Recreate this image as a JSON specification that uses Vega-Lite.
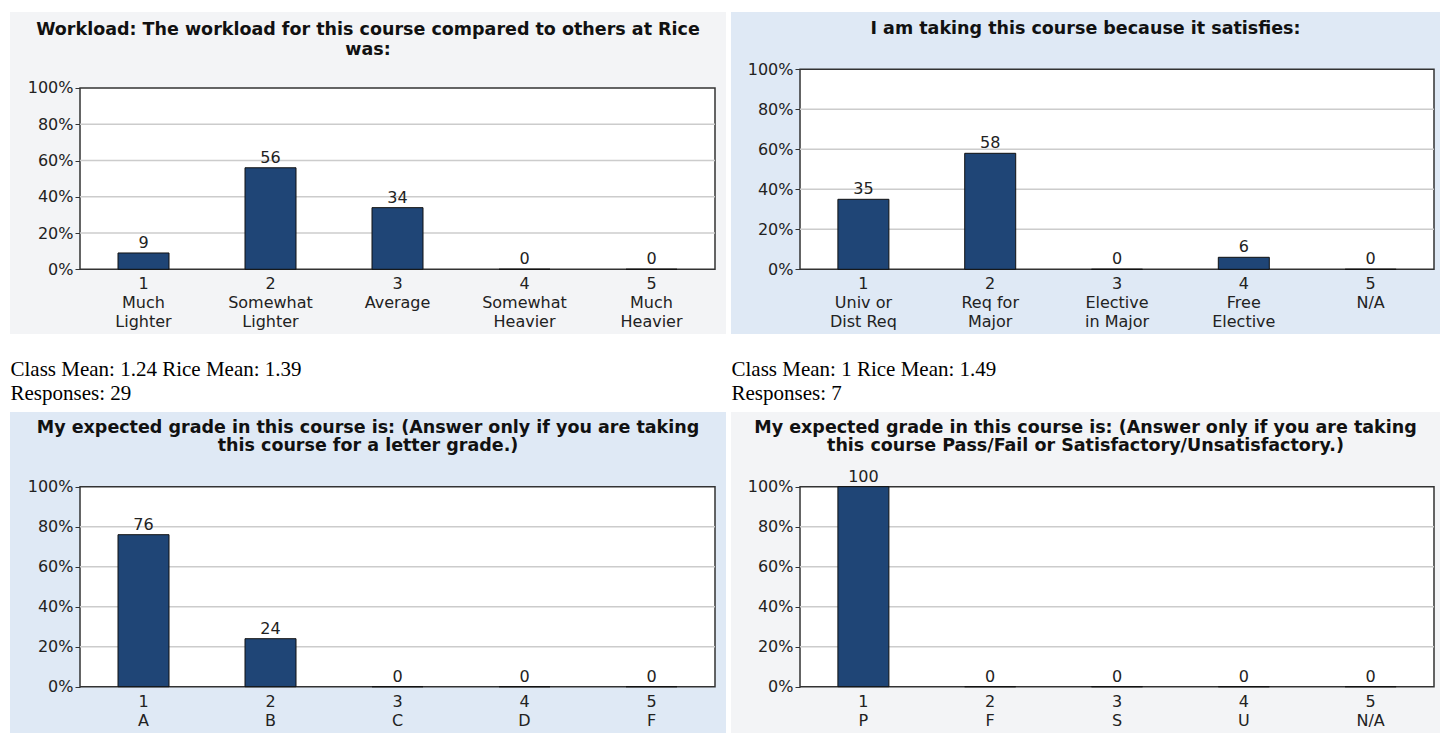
{
  "$schema": "https://vega.github.io/schema/vega-lite/v6.json",
  "background": "#ffffff",
  "padding": {"left": 10, "top": 12, "right": 0, "bottom": 0},
  "config": {
    "view": {"stroke": null},
    "font": "DejaVu Sans",
    "axis": {"zindex": 1}
  },
  "datasets": {
    "workload": [
      {"opt": 1, "lab": "1\nMuch\nLighter", "pct": 9},
      {"opt": 2, "lab": "2\nSomewhat\nLighter", "pct": 56},
      {"opt": 3, "lab": "3\nAverage", "pct": 34},
      {"opt": 4, "lab": "4\nSomewhat\nHeavier", "pct": 0},
      {"opt": 5, "lab": "5\nMuch\nHeavier", "pct": 0}
    ],
    "satisfies": [
      {"opt": 1, "lab": "1\nUniv or\nDist Req", "pct": 35},
      {"opt": 2, "lab": "2\nReq for\nMajor", "pct": 58},
      {"opt": 3, "lab": "3\nElective\nin Major", "pct": 0},
      {"opt": 4, "lab": "4\nFree\nElective", "pct": 6},
      {"opt": 5, "lab": "5\nN/A", "pct": 0}
    ],
    "grade": [
      {"opt": 1, "lab": "1\nA", "pct": 76},
      {"opt": 2, "lab": "2\nB", "pct": 24},
      {"opt": 3, "lab": "3\nC", "pct": 0},
      {"opt": 4, "lab": "4\nD", "pct": 0},
      {"opt": 5, "lab": "5\nF", "pct": 0}
    ],
    "passfail": [
      {"opt": 1, "lab": "1\nP", "pct": 100},
      {"opt": 2, "lab": "2\nF", "pct": 0},
      {"opt": 3, "lab": "3\nS", "pct": 0},
      {"opt": 4, "lab": "4\nU", "pct": 0},
      {"opt": 5, "lab": "5\nN/A", "pct": 0}
    ],
    "grid": [{"g": 20}, {"g": 40}, {"g": 60}, {"g": 80}],
    "frame": [{"part": "plot"}]
  },
  "columns": 2,
  "spacing": {"row": 78, "column": 5},
  "bounds": "flush",
  "concat": [
    {
      "width": 716, "height": 322,
      "view": {"fill": "#f3f4f6", "stroke": null},
      "title": {"text": ["Workload: The workload for this course compared to others at Rice", "was:"], "anchor": "middle", "frame": "group", "offset": -46, "lineHeight": 20, "fontSize": 17.5, "fontWeight": "bold", "font": "DejaVu Sans", "color": "#111111"},
      "layer": [
        {"data": {"name": "frame"}, "mark": {"type": "rect", "fill": "#ffffff", "stroke": "#333333", "strokeWidth": 1.5},
         "encoding": {
           "x": {"datum": 0.5, "scale": {"domain": [-0.0512, 5.5866], "nice": false, "zero": false, "padding": 0},
                 "axis": {"labels": false, "ticks": false, "domain": false, "grid": false, "title": ["Class Mean: 1.24 Rice Mean: 1.39", "Responses: 29"], "titleAnchor": "start", "titleAlign": "left", "titleBaseline": "top", "titleFont": "Liberation Serif", "titleFontSize": 21, "titleFontWeight": "normal", "titleColor": "#000000", "titleLineHeight": 24, "titlePadding": 24}},
           "x2": {"datum": 5.5},
           "y": {"datum": 0, "scale": {"domain": [-35.69, 141.92], "nice": false, "zero": false},
                 "axis": {"values": [0, 20, 40, 60, 80, 100], "labelExpr": "datum.value + '%'", "offset": -70, "domain": false, "grid": false, "tickSize": 5, "tickColor": "#333333", "tickWidth": 1, "labelFontSize": 16, "labelColor": "#222222", "labelPadding": 2, "title": null}},
           "y2": {"datum": 100}}},
        {"data": {"name": "grid"}, "mark": {"type": "rule", "stroke": "#cccccc", "strokeWidth": 1.5},
         "encoding": {
           "x": {"datum": 0.5, "scale": {"domain": [-0.0512, 5.5866], "nice": false, "zero": false, "padding": 0},
                 "axis": {"labels": false, "ticks": false, "domain": false, "grid": false, "title": ["Class Mean: 1.24 Rice Mean: 1.39", "Responses: 29"], "titleAnchor": "start", "titleAlign": "left", "titleBaseline": "top", "titleFont": "Liberation Serif", "titleFontSize": 21, "titleFontWeight": "normal", "titleColor": "#000000", "titleLineHeight": 24, "titlePadding": 24}},
           "x2": {"datum": 5.5},
           "y": {"field": "g", "type": "quantitative", "scale": {"domain": [-35.69, 141.92], "nice": false, "zero": false},
                 "axis": {"values": [0, 20, 40, 60, 80, 100], "labelExpr": "datum.value + '%'", "offset": -70, "domain": false, "grid": false, "tickSize": 5, "tickColor": "#333333", "tickWidth": 1, "labelFontSize": 16, "labelColor": "#222222", "labelPadding": 2, "title": null}}}},
        {"data": {"name": "workload"}, "mark": {"type": "bar", "orient": "vertical", "width": 51, "fill": "#1f4576", "stroke": "#111111", "strokeWidth": 1},
         "encoding": {
           "x": {"field": "opt", "type": "quantitative", "scale": {"domain": [-0.0512, 5.5866], "nice": false, "zero": false, "padding": 0},
                 "axis": {"labels": false, "ticks": false, "domain": false, "grid": false, "title": ["Class Mean: 1.24 Rice Mean: 1.39", "Responses: 29"], "titleAnchor": "start", "titleAlign": "left", "titleBaseline": "top", "titleFont": "Liberation Serif", "titleFontSize": 21, "titleFontWeight": "normal", "titleColor": "#000000", "titleLineHeight": 24, "titlePadding": 24}},
           "y": {"field": "pct", "type": "quantitative", "scale": {"domain": [-35.69, 141.92], "nice": false, "zero": false},
                 "axis": {"values": [0, 20, 40, 60, 80, 100], "labelExpr": "datum.value + '%'", "offset": -70, "domain": false, "grid": false, "tickSize": 5, "tickColor": "#333333", "tickWidth": 1, "labelFontSize": 16, "labelColor": "#222222", "labelPadding": 2, "title": null}},
           "y2": {"datum": 0}}},
        {"data": {"name": "workload"}, "mark": {"type": "text", "baseline": "alphabetic", "dy": -5, "fontSize": 16, "color": "#222222"},
         "encoding": {
           "x": {"field": "opt", "type": "quantitative",
                 "axis": {"labels": false, "ticks": false, "domain": false, "grid": false, "title": ["Class Mean: 1.24 Rice Mean: 1.39", "Responses: 29"], "titleAnchor": "start", "titleAlign": "left", "titleBaseline": "top", "titleFont": "Liberation Serif", "titleFontSize": 21, "titleFontWeight": "normal", "titleColor": "#000000", "titleLineHeight": 24, "titlePadding": 24}},
           "y": {"field": "pct", "type": "quantitative",
                 "axis": {"values": [0, 20, 40, 60, 80, 100], "labelExpr": "datum.value + '%'", "offset": -70, "domain": false, "grid": false, "tickSize": 5, "tickColor": "#333333", "tickWidth": 1, "labelFontSize": 16, "labelColor": "#222222", "labelPadding": 2, "title": null}},
           "text": {"field": "pct", "type": "quantitative"}}},
        {"data": {"name": "workload"}, "mark": {"type": "text", "baseline": "top", "dy": 7, "fontSize": 16, "lineHeight": 19, "lineBreak": "\n", "color": "#222222"},
         "encoding": {
           "x": {"field": "opt", "type": "quantitative",
                 "axis": {"labels": false, "ticks": false, "domain": false, "grid": false, "title": ["Class Mean: 1.24 Rice Mean: 1.39", "Responses: 29"], "titleAnchor": "start", "titleAlign": "left", "titleBaseline": "top", "titleFont": "Liberation Serif", "titleFontSize": 21, "titleFontWeight": "normal", "titleColor": "#000000", "titleLineHeight": 24, "titlePadding": 24}},
           "y": {"datum": 0,
                 "axis": {"values": [0, 20, 40, 60, 80, 100], "labelExpr": "datum.value + '%'", "offset": -70, "domain": false, "grid": false, "tickSize": 5, "tickColor": "#333333", "tickWidth": 1, "labelFontSize": 16, "labelColor": "#222222", "labelPadding": 2, "title": null}},
           "text": {"field": "lab", "type": "nominal"}}}
      ]
    },
    {
      "width": 709, "height": 322,
      "view": {"fill": "#dfe9f5", "stroke": null},
      "title": {"text": "I am taking this course because it satisfies:", "anchor": "middle", "frame": "group", "offset": -25, "lineHeight": 17, "fontSize": 17.5, "fontWeight": "bold", "font": "DejaVu Sans", "color": "#111111"},
      "layer": [
        {"data": {"name": "frame"}, "mark": {"type": "rect", "fill": "#ffffff", "stroke": "#333333", "strokeWidth": 1.5},
         "encoding": {
           "x": {"datum": 0.5, "scale": {"domain": [-0.0442, 5.5473], "nice": false, "zero": false, "padding": 0},
                 "axis": {"labels": false, "ticks": false, "domain": false, "grid": false, "title": ["Class Mean: 1 Rice Mean: 1.49", "Responses: 7"], "titleAnchor": "start", "titleAlign": "left", "titleBaseline": "top", "titleFont": "Liberation Serif", "titleFontSize": 21, "titleFontWeight": "normal", "titleColor": "#000000", "titleLineHeight": 24, "titlePadding": 24}},
           "x2": {"datum": 5.5},
           "y": {"datum": 0, "scale": {"domain": [-32.35, 128.65], "nice": false, "zero": false},
                 "axis": {"values": [0, 20, 40, 60, 80, 100], "labelExpr": "datum.value + '%'", "offset": -69, "domain": false, "grid": false, "tickSize": 5, "tickColor": "#333333", "tickWidth": 1, "labelFontSize": 16, "labelColor": "#222222", "labelPadding": 2, "title": null}},
           "y2": {"datum": 100}}},
        {"data": {"name": "grid"}, "mark": {"type": "rule", "stroke": "#cccccc", "strokeWidth": 1.5},
         "encoding": {
           "x": {"datum": 0.5, "scale": {"domain": [-0.0442, 5.5473], "nice": false, "zero": false, "padding": 0},
                 "axis": {"labels": false, "ticks": false, "domain": false, "grid": false, "title": ["Class Mean: 1 Rice Mean: 1.49", "Responses: 7"], "titleAnchor": "start", "titleAlign": "left", "titleBaseline": "top", "titleFont": "Liberation Serif", "titleFontSize": 21, "titleFontWeight": "normal", "titleColor": "#000000", "titleLineHeight": 24, "titlePadding": 24}},
           "x2": {"datum": 5.5},
           "y": {"field": "g", "type": "quantitative", "scale": {"domain": [-32.35, 128.65], "nice": false, "zero": false},
                 "axis": {"values": [0, 20, 40, 60, 80, 100], "labelExpr": "datum.value + '%'", "offset": -69, "domain": false, "grid": false, "tickSize": 5, "tickColor": "#333333", "tickWidth": 1, "labelFontSize": 16, "labelColor": "#222222", "labelPadding": 2, "title": null}}}},
        {"data": {"name": "satisfies"}, "mark": {"type": "bar", "orient": "vertical", "width": 51, "fill": "#1f4576", "stroke": "#111111", "strokeWidth": 1},
         "encoding": {
           "x": {"field": "opt", "type": "quantitative", "scale": {"domain": [-0.0442, 5.5473], "nice": false, "zero": false, "padding": 0},
                 "axis": {"labels": false, "ticks": false, "domain": false, "grid": false, "title": ["Class Mean: 1 Rice Mean: 1.49", "Responses: 7"], "titleAnchor": "start", "titleAlign": "left", "titleBaseline": "top", "titleFont": "Liberation Serif", "titleFontSize": 21, "titleFontWeight": "normal", "titleColor": "#000000", "titleLineHeight": 24, "titlePadding": 24}},
           "y": {"field": "pct", "type": "quantitative", "scale": {"domain": [-32.35, 128.65], "nice": false, "zero": false},
                 "axis": {"values": [0, 20, 40, 60, 80, 100], "labelExpr": "datum.value + '%'", "offset": -69, "domain": false, "grid": false, "tickSize": 5, "tickColor": "#333333", "tickWidth": 1, "labelFontSize": 16, "labelColor": "#222222", "labelPadding": 2, "title": null}},
           "y2": {"datum": 0}}},
        {"data": {"name": "satisfies"}, "mark": {"type": "text", "baseline": "alphabetic", "dy": -5, "fontSize": 16, "color": "#222222"},
         "encoding": {
           "x": {"field": "opt", "type": "quantitative",
                 "axis": {"labels": false, "ticks": false, "domain": false, "grid": false, "title": ["Class Mean: 1 Rice Mean: 1.49", "Responses: 7"], "titleAnchor": "start", "titleAlign": "left", "titleBaseline": "top", "titleFont": "Liberation Serif", "titleFontSize": 21, "titleFontWeight": "normal", "titleColor": "#000000", "titleLineHeight": 24, "titlePadding": 24}},
           "y": {"field": "pct", "type": "quantitative",
                 "axis": {"values": [0, 20, 40, 60, 80, 100], "labelExpr": "datum.value + '%'", "offset": -69, "domain": false, "grid": false, "tickSize": 5, "tickColor": "#333333", "tickWidth": 1, "labelFontSize": 16, "labelColor": "#222222", "labelPadding": 2, "title": null}},
           "text": {"field": "pct", "type": "quantitative"}}},
        {"data": {"name": "satisfies"}, "mark": {"type": "text", "baseline": "top", "dy": 7, "fontSize": 16, "lineHeight": 19, "lineBreak": "\n", "color": "#222222"},
         "encoding": {
           "x": {"field": "opt", "type": "quantitative",
                 "axis": {"labels": false, "ticks": false, "domain": false, "grid": false, "title": ["Class Mean: 1 Rice Mean: 1.49", "Responses: 7"], "titleAnchor": "start", "titleAlign": "left", "titleBaseline": "top", "titleFont": "Liberation Serif", "titleFontSize": 21, "titleFontWeight": "normal", "titleColor": "#000000", "titleLineHeight": 24, "titlePadding": 24}},
           "y": {"datum": 0,
                 "axis": {"values": [0, 20, 40, 60, 80, 100], "labelExpr": "datum.value + '%'", "offset": -69, "domain": false, "grid": false, "tickSize": 5, "tickColor": "#333333", "tickWidth": 1, "labelFontSize": 16, "labelColor": "#222222", "labelPadding": 2, "title": null}},
           "text": {"field": "lab", "type": "nominal"}}}
      ]
    },
    {
      "width": 716, "height": 321,
      "view": {"fill": "#dfe9f5", "stroke": null},
      "title": {"text": ["My expected grade in this course is: (Answer only if you are taking", "this course for a letter grade.)"], "anchor": "middle", "frame": "group", "offset": -42, "lineHeight": 18, "fontSize": 17.5, "fontWeight": "bold", "font": "DejaVu Sans", "color": "#111111"},
      "layer": [
        {"data": {"name": "frame"}, "mark": {"type": "rect", "fill": "#ffffff", "stroke": "#333333", "strokeWidth": 1.5},
         "encoding": {
           "x": {"datum": 0.5, "scale": {"domain": [-0.0512, 5.5866], "nice": false, "zero": false, "padding": 0}, "axis": null},
           "x2": {"datum": 5.5},
           "y": {"datum": 0, "scale": {"domain": [-23.15, 137.35], "nice": false, "zero": false},
                 "axis": {"values": [0, 20, 40, 60, 80, 100], "labelExpr": "datum.value + '%'", "offset": -70, "domain": false, "grid": false, "tickSize": 5, "tickColor": "#333333", "tickWidth": 1, "labelFontSize": 16, "labelColor": "#222222", "labelPadding": 2, "title": null}},
           "y2": {"datum": 100}}},
        {"data": {"name": "grid"}, "mark": {"type": "rule", "stroke": "#cccccc", "strokeWidth": 1.5},
         "encoding": {
           "x": {"datum": 0.5, "scale": {"domain": [-0.0512, 5.5866], "nice": false, "zero": false, "padding": 0}, "axis": null},
           "x2": {"datum": 5.5},
           "y": {"field": "g", "type": "quantitative", "scale": {"domain": [-23.15, 137.35], "nice": false, "zero": false},
                 "axis": {"values": [0, 20, 40, 60, 80, 100], "labelExpr": "datum.value + '%'", "offset": -70, "domain": false, "grid": false, "tickSize": 5, "tickColor": "#333333", "tickWidth": 1, "labelFontSize": 16, "labelColor": "#222222", "labelPadding": 2, "title": null}}}},
        {"data": {"name": "grade"}, "mark": {"type": "bar", "orient": "vertical", "width": 51, "fill": "#1f4576", "stroke": "#111111", "strokeWidth": 1},
         "encoding": {
           "x": {"field": "opt", "type": "quantitative", "scale": {"domain": [-0.0512, 5.5866], "nice": false, "zero": false, "padding": 0}, "axis": null},
           "y": {"field": "pct", "type": "quantitative", "scale": {"domain": [-23.15, 137.35], "nice": false, "zero": false},
                 "axis": {"values": [0, 20, 40, 60, 80, 100], "labelExpr": "datum.value + '%'", "offset": -70, "domain": false, "grid": false, "tickSize": 5, "tickColor": "#333333", "tickWidth": 1, "labelFontSize": 16, "labelColor": "#222222", "labelPadding": 2, "title": null}},
           "y2": {"datum": 0}}},
        {"data": {"name": "grade"}, "mark": {"type": "text", "baseline": "alphabetic", "dy": -5, "fontSize": 16, "color": "#222222"},
         "encoding": {
           "x": {"field": "opt", "type": "quantitative", "axis": null},
           "y": {"field": "pct", "type": "quantitative",
                 "axis": {"values": [0, 20, 40, 60, 80, 100], "labelExpr": "datum.value + '%'", "offset": -70, "domain": false, "grid": false, "tickSize": 5, "tickColor": "#333333", "tickWidth": 1, "labelFontSize": 16, "labelColor": "#222222", "labelPadding": 2, "title": null}},
           "text": {"field": "pct", "type": "quantitative"}}},
        {"data": {"name": "grade"}, "mark": {"type": "text", "baseline": "top", "dy": 7, "fontSize": 16, "lineHeight": 19, "lineBreak": "\n", "color": "#222222"},
         "encoding": {
           "x": {"field": "opt", "type": "quantitative", "axis": null},
           "y": {"datum": 0,
                 "axis": {"values": [0, 20, 40, 60, 80, 100], "labelExpr": "datum.value + '%'", "offset": -70, "domain": false, "grid": false, "tickSize": 5, "tickColor": "#333333", "tickWidth": 1, "labelFontSize": 16, "labelColor": "#222222", "labelPadding": 2, "title": null}},
           "text": {"field": "lab", "type": "nominal"}}}
      ]
    },
    {
      "width": 709, "height": 321,
      "view": {"fill": "#f3f4f6", "stroke": null},
      "title": {"text": ["My expected grade in this course is: (Answer only if you are taking", "this course Pass/Fail or Satisfactory/Unsatisfactory.)"], "anchor": "middle", "frame": "group", "offset": -42, "lineHeight": 18, "fontSize": 17.5, "fontWeight": "bold", "font": "DejaVu Sans", "color": "#111111"},
      "layer": [
        {"data": {"name": "frame"}, "mark": {"type": "rect", "fill": "#ffffff", "stroke": "#333333", "strokeWidth": 1.5},
         "encoding": {
           "x": {"datum": 0.5, "scale": {"domain": [-0.0442, 5.5473], "nice": false, "zero": false, "padding": 0}, "axis": null},
           "x2": {"datum": 5.5},
           "y": {"datum": 0, "scale": {"domain": [-23.15, 137.35], "nice": false, "zero": false},
                 "axis": {"values": [0, 20, 40, 60, 80, 100], "labelExpr": "datum.value + '%'", "offset": -69, "domain": false, "grid": false, "tickSize": 5, "tickColor": "#333333", "tickWidth": 1, "labelFontSize": 16, "labelColor": "#222222", "labelPadding": 2, "title": null}},
           "y2": {"datum": 100}}},
        {"data": {"name": "grid"}, "mark": {"type": "rule", "stroke": "#cccccc", "strokeWidth": 1.5},
         "encoding": {
           "x": {"datum": 0.5, "scale": {"domain": [-0.0442, 5.5473], "nice": false, "zero": false, "padding": 0}, "axis": null},
           "x2": {"datum": 5.5},
           "y": {"field": "g", "type": "quantitative", "scale": {"domain": [-23.15, 137.35], "nice": false, "zero": false},
                 "axis": {"values": [0, 20, 40, 60, 80, 100], "labelExpr": "datum.value + '%'", "offset": -69, "domain": false, "grid": false, "tickSize": 5, "tickColor": "#333333", "tickWidth": 1, "labelFontSize": 16, "labelColor": "#222222", "labelPadding": 2, "title": null}}}},
        {"data": {"name": "passfail"}, "mark": {"type": "bar", "orient": "vertical", "width": 51, "fill": "#1f4576", "stroke": "#111111", "strokeWidth": 1},
         "encoding": {
           "x": {"field": "opt", "type": "quantitative", "scale": {"domain": [-0.0442, 5.5473], "nice": false, "zero": false, "padding": 0}, "axis": null},
           "y": {"field": "pct", "type": "quantitative", "scale": {"domain": [-23.15, 137.35], "nice": false, "zero": false},
                 "axis": {"values": [0, 20, 40, 60, 80, 100], "labelExpr": "datum.value + '%'", "offset": -69, "domain": false, "grid": false, "tickSize": 5, "tickColor": "#333333", "tickWidth": 1, "labelFontSize": 16, "labelColor": "#222222", "labelPadding": 2, "title": null}},
           "y2": {"datum": 0}}},
        {"data": {"name": "passfail"}, "mark": {"type": "text", "baseline": "alphabetic", "dy": -5, "fontSize": 16, "color": "#222222"},
         "encoding": {
           "x": {"field": "opt", "type": "quantitative", "axis": null},
           "y": {"field": "pct", "type": "quantitative",
                 "axis": {"values": [0, 20, 40, 60, 80, 100], "labelExpr": "datum.value + '%'", "offset": -69, "domain": false, "grid": false, "tickSize": 5, "tickColor": "#333333", "tickWidth": 1, "labelFontSize": 16, "labelColor": "#222222", "labelPadding": 2, "title": null}},
           "text": {"field": "pct", "type": "quantitative"}}},
        {"data": {"name": "passfail"}, "mark": {"type": "text", "baseline": "top", "dy": 7, "fontSize": 16, "lineHeight": 19, "lineBreak": "\n", "color": "#222222"},
         "encoding": {
           "x": {"field": "opt", "type": "quantitative", "axis": null},
           "y": {"datum": 0,
                 "axis": {"values": [0, 20, 40, 60, 80, 100], "labelExpr": "datum.value + '%'", "offset": -69, "domain": false, "grid": false, "tickSize": 5, "tickColor": "#333333", "tickWidth": 1, "labelFontSize": 16, "labelColor": "#222222", "labelPadding": 2, "title": null}},
           "text": {"field": "lab", "type": "nominal"}}}
      ]
    }
  ]
}
